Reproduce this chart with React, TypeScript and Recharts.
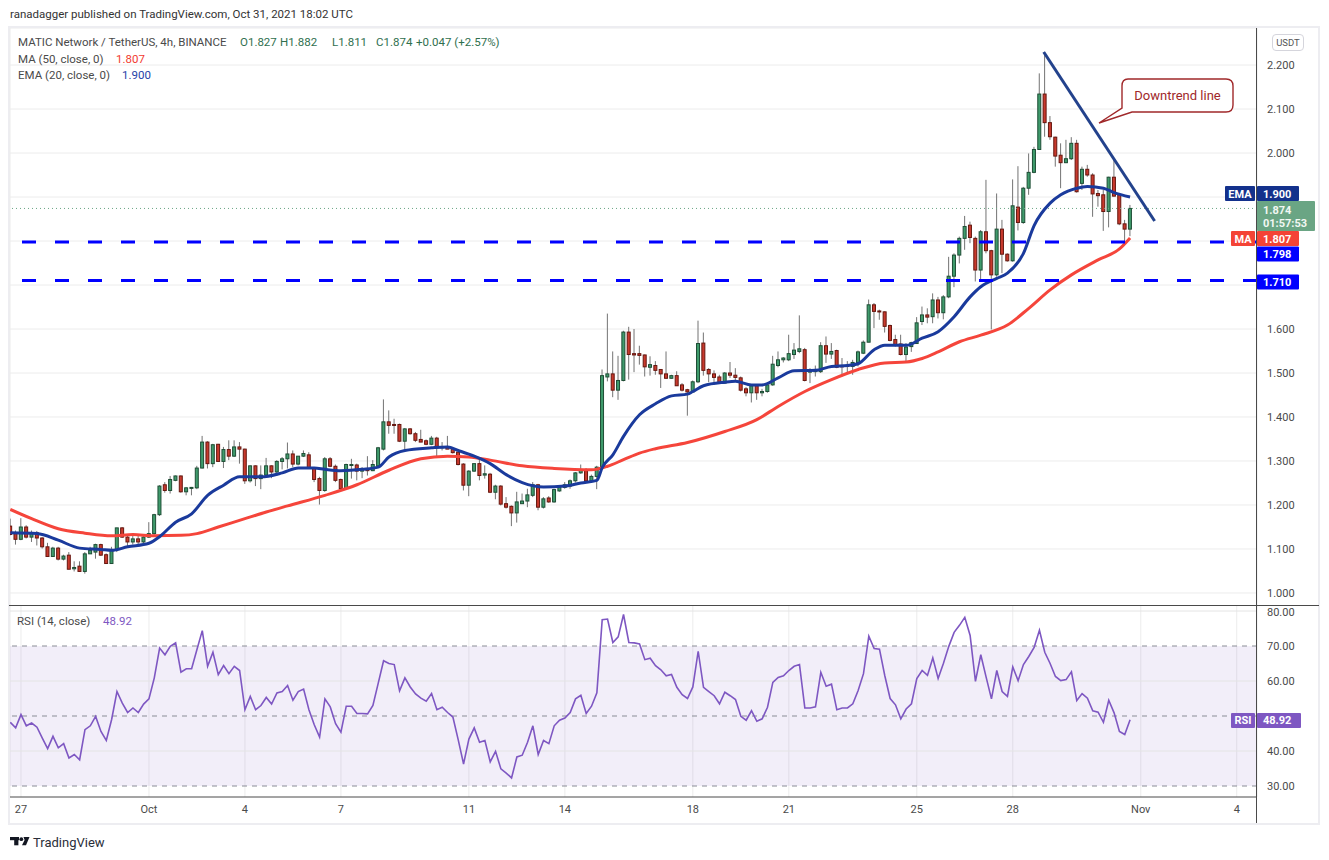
import React from 'react';
import {
  ComposedChart,
  Bar,
  Line,
  XAxis,
  YAxis,
  CartesianGrid,
  ReferenceLine,
  ReferenceArea,
} from 'recharts';

// 4h candles, Sep 26 16:00 -> Oct 31 16:00 UTC, [open, high, low, close]
const ohlc: number[][] = [
  [1.152, 1.169, 1.131, 1.133], [1.135, 1.142, 1.110, 1.122], [1.122, 1.170, 1.120, 1.150], [1.150, 1.154, 1.124, 1.127],
  [1.127, 1.142, 1.116, 1.137], [1.137, 1.141, 1.108, 1.125], [1.125, 1.127, 1.101, 1.105], [1.105, 1.114, 1.082, 1.083],
  [1.083, 1.105, 1.082, 1.102], [1.102, 1.105, 1.074, 1.077], [1.077, 1.087, 1.074, 1.084], [1.086, 1.093, 1.054, 1.054],
  [1.055, 1.072, 1.049, 1.058], [1.061, 1.072, 1.048, 1.049], [1.049, 1.093, 1.044, 1.089], [1.089, 1.105, 1.089, 1.097],
  [1.093, 1.112, 1.078, 1.110], [1.110, 1.112, 1.084, 1.086], [1.087, 1.090, 1.067, 1.067], [1.067, 1.105, 1.067, 1.099],
  [1.099, 1.148, 1.093, 1.148], [1.148, 1.150, 1.125, 1.127], [1.127, 1.133, 1.105, 1.116], [1.116, 1.133, 1.110, 1.123],
  [1.123, 1.133, 1.110, 1.116], [1.116, 1.130, 1.112, 1.127], [1.127, 1.161, 1.125, 1.135], [1.135, 1.180, 1.131, 1.178],
  [1.178, 1.245, 1.175, 1.243], [1.246, 1.252, 1.228, 1.233], [1.233, 1.266, 1.226, 1.258], [1.256, 1.267, 1.254, 1.266],
  [1.266, 1.267, 1.228, 1.230], [1.230, 1.241, 1.222, 1.239], [1.239, 1.241, 1.222, 1.240], [1.239, 1.289, 1.236, 1.284],
  [1.284, 1.357, 1.283, 1.343], [1.343, 1.345, 1.283, 1.294], [1.294, 1.339, 1.286, 1.337], [1.338, 1.339, 1.298, 1.299],
  [1.299, 1.332, 1.284, 1.326], [1.326, 1.347, 1.302, 1.311], [1.311, 1.347, 1.309, 1.332], [1.332, 1.343, 1.294, 1.327],
  [1.327, 1.328, 1.248, 1.255], [1.255, 1.290, 1.251, 1.289], [1.289, 1.290, 1.243, 1.260], [1.260, 1.290, 1.236, 1.268],
  [1.268, 1.307, 1.264, 1.289], [1.289, 1.290, 1.261, 1.275], [1.275, 1.302, 1.266, 1.299], [1.299, 1.309, 1.281, 1.305],
  [1.305, 1.342, 1.283, 1.316], [1.316, 1.324, 1.286, 1.293], [1.293, 1.311, 1.290, 1.311], [1.311, 1.324, 1.309, 1.317],
  [1.314, 1.320, 1.283, 1.284], [1.284, 1.286, 1.252, 1.258], [1.260, 1.264, 1.201, 1.233], [1.233, 1.309, 1.230, 1.305],
  [1.305, 1.309, 1.286, 1.288], [1.288, 1.292, 1.252, 1.256], [1.258, 1.260, 1.236, 1.237], [1.238, 1.294, 1.237, 1.292],
  [1.291, 1.305, 1.260, 1.292], [1.291, 1.294, 1.256, 1.277], [1.277, 1.286, 1.261, 1.281], [1.281, 1.311, 1.267, 1.278],
  [1.278, 1.302, 1.277, 1.292], [1.289, 1.332, 1.286, 1.330], [1.327, 1.440, 1.324, 1.389], [1.389, 1.415, 1.362, 1.381],
  [1.383, 1.396, 1.362, 1.381], [1.383, 1.385, 1.343, 1.345], [1.345, 1.375, 1.326, 1.373], [1.373, 1.375, 1.360, 1.362],
  [1.362, 1.366, 1.343, 1.347], [1.349, 1.371, 1.343, 1.343], [1.346, 1.349, 1.336, 1.338], [1.338, 1.357, 1.336, 1.352],
  [1.352, 1.355, 1.307, 1.330], [1.330, 1.343, 1.324, 1.333], [1.333, 1.357, 1.327, 1.327], [1.328, 1.332, 1.317, 1.319],
  [1.320, 1.324, 1.290, 1.292], [1.293, 1.295, 1.233, 1.245], [1.245, 1.279, 1.220, 1.277], [1.277, 1.295, 1.275, 1.294],
  [1.294, 1.309, 1.256, 1.267], [1.268, 1.290, 1.260, 1.271], [1.270, 1.273, 1.227, 1.229], [1.229, 1.246, 1.213, 1.243],
  [1.243, 1.245, 1.199, 1.202], [1.203, 1.218, 1.192, 1.195], [1.197, 1.199, 1.152, 1.182], [1.182, 1.230, 1.160, 1.207],
  [1.203, 1.226, 1.203, 1.209], [1.209, 1.237, 1.195, 1.223], [1.222, 1.252, 1.218, 1.246], [1.246, 1.248, 1.188, 1.195],
  [1.195, 1.218, 1.192, 1.214], [1.216, 1.220, 1.205, 1.207], [1.207, 1.237, 1.205, 1.235], [1.232, 1.245, 1.230, 1.241],
  [1.240, 1.252, 1.237, 1.246], [1.243, 1.258, 1.237, 1.255], [1.255, 1.275, 1.251, 1.273], [1.273, 1.292, 1.271, 1.280],
  [1.278, 1.284, 1.252, 1.255], [1.255, 1.269, 1.251, 1.265], [1.265, 1.289, 1.236, 1.286], [1.284, 1.508, 1.281, 1.494],
  [1.491, 1.635, 1.481, 1.498], [1.498, 1.549, 1.445, 1.461], [1.461, 1.539, 1.439, 1.483], [1.483, 1.596, 1.481, 1.593],
  [1.593, 1.605, 1.485, 1.542], [1.544, 1.600, 1.502, 1.541], [1.544, 1.562, 1.519, 1.540], [1.541, 1.542, 1.492, 1.514],
  [1.513, 1.538, 1.494, 1.519], [1.517, 1.527, 1.496, 1.506], [1.508, 1.509, 1.466, 1.498], [1.498, 1.549, 1.487, 1.488],
  [1.488, 1.496, 1.487, 1.494], [1.494, 1.504, 1.471, 1.471], [1.473, 1.477, 1.458, 1.461], [1.462, 1.464, 1.403, 1.457],
  [1.457, 1.483, 1.455, 1.480], [1.480, 1.619, 1.477, 1.567], [1.568, 1.592, 1.494, 1.506], [1.508, 1.511, 1.479, 1.498],
  [1.498, 1.506, 1.473, 1.490], [1.491, 1.496, 1.476, 1.477], [1.477, 1.502, 1.476, 1.500], [1.500, 1.525, 1.489, 1.495],
  [1.495, 1.511, 1.481, 1.490], [1.489, 1.492, 1.458, 1.461], [1.464, 1.468, 1.447, 1.455], [1.455, 1.473, 1.433, 1.471],
  [1.471, 1.473, 1.439, 1.455], [1.455, 1.464, 1.447, 1.458], [1.458, 1.476, 1.455, 1.473], [1.473, 1.539, 1.471, 1.520],
  [1.517, 1.549, 1.513, 1.530], [1.530, 1.536, 1.524, 1.534], [1.530, 1.587, 1.527, 1.544], [1.542, 1.568, 1.532, 1.552],
  [1.549, 1.631, 1.545, 1.555], [1.553, 1.557, 1.481, 1.483], [1.502, 1.511, 1.477, 1.506], [1.503, 1.517, 1.492, 1.506],
  [1.503, 1.570, 1.500, 1.562], [1.562, 1.583, 1.523, 1.543], [1.543, 1.568, 1.532, 1.549], [1.551, 1.553, 1.511, 1.513],
  [1.517, 1.534, 1.492, 1.514], [1.517, 1.527, 1.498, 1.515], [1.515, 1.530, 1.496, 1.524], [1.524, 1.551, 1.515, 1.548],
  [1.545, 1.574, 1.543, 1.570], [1.570, 1.667, 1.570, 1.655], [1.655, 1.659, 1.602, 1.640], [1.641, 1.644, 1.621, 1.640],
  [1.639, 1.640, 1.592, 1.606], [1.608, 1.610, 1.572, 1.574], [1.576, 1.587, 1.560, 1.564], [1.566, 1.587, 1.540, 1.542],
  [1.542, 1.568, 1.526, 1.559], [1.560, 1.571, 1.548, 1.569], [1.567, 1.627, 1.566, 1.614], [1.617, 1.651, 1.609, 1.632],
  [1.632, 1.647, 1.613, 1.627], [1.628, 1.681, 1.613, 1.666], [1.666, 1.673, 1.624, 1.637], [1.637, 1.677, 1.622, 1.673],
  [1.673, 1.764, 1.670, 1.720], [1.720, 1.772, 1.695, 1.768], [1.768, 1.810, 1.749, 1.806], [1.806, 1.857, 1.780, 1.833],
  [1.836, 1.844, 1.795, 1.808], [1.806, 1.810, 1.708, 1.734], [1.734, 1.825, 1.711, 1.821], [1.821, 1.939, 1.772, 1.778],
  [1.778, 1.780, 1.599, 1.723], [1.723, 1.908, 1.719, 1.827], [1.827, 1.848, 1.727, 1.770], [1.770, 1.772, 1.753, 1.755],
  [1.755, 1.940, 1.753, 1.880], [1.877, 1.970, 1.824, 1.842], [1.842, 1.923, 1.839, 1.920], [1.920, 1.999, 1.905, 1.956],
  [1.956, 2.014, 1.954, 2.008], [2.008, 2.181, 2.007, 2.134], [2.134, 2.228, 2.037, 2.069], [2.069, 2.084, 2.030, 2.037],
  [2.036, 2.037, 1.969, 1.993], [1.995, 2.022, 1.920, 1.978], [1.978, 2.030, 1.977, 1.987], [1.987, 2.036, 1.984, 2.022],
  [2.022, 2.030, 1.910, 1.912], [1.931, 1.969, 1.916, 1.963], [1.963, 1.973, 1.946, 1.950], [1.950, 1.954, 1.855, 1.907],
  [1.908, 1.916, 1.878, 1.903], [1.905, 1.916, 1.823, 1.867], [1.867, 1.946, 1.831, 1.945], [1.945, 1.984, 1.901, 1.902],
  [1.905, 1.908, 1.836, 1.839], [1.839, 1.848, 1.791, 1.827], [1.827, 1.882, 1.811, 1.874],
];

// RSI(14) per candle
const rsiValues = [
  48.2, 46.6, 50.4, 47.2, 48.0, 46.8, 43.7, 40.7, 44.2, 40.9, 42.1, 38.0, 39.0, 37.5, 46.1, 47.2, 49.9, 45.6, 43.0, 49.0,
  57.0, 53.7, 51.0, 52.3, 51.0, 53.4, 54.9, 60.9, 69.4, 67.5, 69.9, 70.9, 62.5, 63.5, 63.5, 69.0, 74.4, 64.2, 68.2, 61.8,
  64.4, 62.1, 64.2, 63.0, 51.8, 55.6, 51.8, 53.0, 55.3, 53.4, 56.6, 57.0, 58.7, 54.5, 57.0, 57.7, 51.8, 47.5, 44.0, 54.9,
  52.6, 47.8, 45.4, 52.8, 52.8, 50.7, 50.7, 50.6, 53.0, 59.4, 65.8, 65.0, 64.7, 57.2, 60.9, 58.3, 56.3, 55.1, 54.2, 56.4,
  51.8, 52.5, 51.0, 49.7, 43.2, 36.3, 43.4, 46.6, 42.5, 43.0, 36.9, 39.9, 34.9, 33.7, 32.3, 38.3, 38.8, 42.5, 47.2, 39.0,
  43.0, 42.1, 47.2, 48.8, 49.4, 51.0, 54.9, 55.9, 50.7, 52.8, 56.6, 77.5, 77.7, 71.0, 72.6, 79.0, 71.0, 70.9, 70.6, 66.1,
  66.5, 64.4, 63.2, 61.5, 61.9, 58.2, 56.1, 55.0, 58.3, 68.5, 58.2, 57.0, 55.8, 53.5, 56.8, 55.8, 54.7, 49.9, 48.8, 51.5,
  48.5, 49.2, 52.5, 59.6, 61.0, 61.5, 63.0, 64.2, 64.7, 52.3, 52.3, 52.6, 62.5, 58.5, 59.1, 51.8, 52.3, 52.3, 53.5, 57.3,
  62.1, 72.8, 69.3, 69.1, 61.5, 55.0, 53.2, 49.2, 52.0, 53.5, 60.7, 63.0, 61.6, 66.6, 60.7, 65.1, 69.9, 73.9, 75.9, 78.2,
  73.0, 59.9, 67.5, 61.1, 54.9, 63.0, 57.0, 55.6, 64.0, 60.1, 64.7, 67.0, 69.6, 74.5, 68.2, 65.0, 61.3, 60.1, 60.4, 62.6,
  54.4, 56.4, 55.1, 51.5, 51.1, 48.2, 54.5, 50.9, 45.6, 44.7, 48.92,
];

// MA(50) read at candle indices [index, value]
const maPoints: [number, number][] = [
  [0, 1.19], [4, 1.169], [9, 1.146], [14, 1.136], [19, 1.13], [23, 1.133], [27, 1.13], [32, 1.131], [35, 1.135],
  [39, 1.15], [44, 1.169], [48, 1.184], [52, 1.198], [59, 1.222], [65, 1.246], [71, 1.279], [77, 1.305], [82, 1.311],
  [86, 1.309], [90, 1.302], [96, 1.289], [102, 1.283], [109, 1.28], [112, 1.288], [115, 1.303], [118, 1.318],
  [121, 1.328], [127, 1.342], [134, 1.367], [140, 1.394], [144, 1.424], [149, 1.458], [154, 1.485], [159, 1.508],
  [164, 1.523], [168, 1.525], [171, 1.533], [174, 1.548], [178, 1.571], [182, 1.586], [187, 1.609], [191, 1.647],
  [195, 1.689], [199, 1.723], [204, 1.757], [208, 1.782], [210, 1.807],
];

// EMA(20) read at candle indices [index, value]
const emaPoints: [number, number][] = [
  [0, 1.137], [5, 1.135], [9, 1.12], [13, 1.102], [17, 1.099], [19, 1.097], [22, 1.105], [26, 1.113], [28, 1.128],
  [31, 1.161], [34, 1.18], [37, 1.222], [40, 1.245], [43, 1.264], [47, 1.264], [51, 1.273], [54, 1.284], [57, 1.284],
  [59, 1.281], [62, 1.278], [66, 1.281], [69, 1.286], [71, 1.309], [74, 1.324], [79, 1.33], [82, 1.332], [84, 1.324],
  [87, 1.311], [90, 1.294], [93, 1.269], [96, 1.251], [100, 1.241], [104, 1.243], [107, 1.25], [110, 1.256],
  [111, 1.285], [113, 1.314], [115, 1.356], [118, 1.405], [121, 1.43], [124, 1.448], [127, 1.452], [128, 1.458],
  [130, 1.471], [134, 1.479], [136, 1.481], [139, 1.473], [141, 1.473], [144, 1.489], [147, 1.505], [151, 1.506],
  [154, 1.515], [157, 1.517], [159, 1.521], [162, 1.553], [164, 1.563], [168, 1.563], [171, 1.579], [174, 1.594],
  [177, 1.628], [180, 1.673], [182, 1.696], [185, 1.715], [187, 1.727], [190, 1.772], [192, 1.835], [195, 1.886],
  [197, 1.905], [200, 1.92], [202, 1.924], [205, 1.92], [207, 1.91], [210, 1.9],
];

const dateTicks = [2, 26, 44, 62, 86, 104, 128, 146, 170, 188, 212, 230];
const dateLabels = ['27', 'Oct', '4', '7', '11', '14', '18', '21', '25', '28', 'Nov', '4'];
const priceTicks = [1.0, 1.1, 1.2, 1.3, 1.4, 1.5, 1.6, 1.7, 1.8, 1.9, 2.0, 2.1, 2.2];
const hiddenPriceTicks = [1.7, 1.8, 1.9]; // covered by the axis tags
const rsiTicks = [30, 40, 50, 60, 70, 80];
const supportLevels = [1.798, 1.71];
const trendLine = [
  { x: 193.8, y: 2.2295 },
  { x: 214.6, y: 1.8455 },
];
const lastPrice = 1.874;
const maLast = 1.807;
const emaLast = 1.9;
const rsiLast = 48.92;

const X_DOMAIN: [number, number] = [-0.06, 233.8];
const FONT = 'Roboto, "Noto Sans", sans-serif';

const maMap = new Map(maPoints);
const emaMap = new Map(emaPoints);
const priceData = ohlc.map(([o, h, l, c], i) => ({
  i,
  o,
  h,
  l,
  c,
  ma: maMap.has(i) ? maMap.get(i) : null,
  ema: emaMap.has(i) ? emaMap.get(i) : null,
}));
const rsiData = rsiValues.map((r, i) => ({ i, r }));

const Candle = (props: any) => {
  const { x, y, width, height, payload } = props;
  if (!payload || height == null) return null;
  const { o, h, l, c } = payload;
  const up = c >= o;
  const ppu = height / Math.max(h - l, 1e-6);
  const top = y + (h - Math.max(o, c)) * ppu;
  const bodyH = Math.max(Math.abs(o - c) * ppu, 1);
  const cx = x + width / 2;
  return (
    <g>
      <line x1={cx} x2={cx} y1={y} y2={y + height} stroke="#737373" strokeWidth={1} />
      <rect
        x={x}
        y={top}
        width={width}
        height={bodyH}
        fill={up ? '#3f9b6c' : '#c8392d'}
        stroke={up ? '#1e4d35' : '#66170f'}
        strokeWidth={1}
      />
    </g>
  );
};

// price tag drawn on the right axis, optional name tag left of it
const tag = (
  value: string,
  bg: string,
  dy: number,
  opts: { name?: string; nameW?: number; w?: number; h?: number; sub?: string } = {},
) => (props: any) => {
  const vb = props.viewBox || {};
  const right = (vb.x || 0) + (vb.width || 0);
  const cy = (vb.y || 0) + dy;
  const w = opts.w || 42;
  const h = opts.h || 15;
  const nw = opts.nameW || 30;
  return (
    <g style={{ fontFamily: FONT }}>
      {opts.name && (
        <g>
          <rect x={right - 2 - nw} y={cy - 7.5} width={nw} height={15} fill={bg} rx={1} />
          <text x={right - 2 - nw / 2} y={cy + 4} textAnchor="middle" fill="#fff" fontSize={11} fontWeight={700}>
            {opts.name}
          </text>
        </g>
      )}
      <rect x={right} y={cy - h / 2} width={w} height={h} fill={bg} rx={1} />
      {opts.sub ? (
        <g>
          <text x={right + 6} y={cy - 2} fill="#f2f7f3" fontSize={11} fontWeight={700}>{value}</text>
          <text x={right + 6} y={cy + 11} fill="#f2f7f3" fontSize={11} fontWeight={700}>{opts.sub}</text>
        </g>
      ) : (
        <text x={right + 6} y={cy + 4} fill="#fff" fontSize={11} fontWeight={700}>{value}</text>
      )}
    </g>
  );
};

const absText = (left: number, top: number, color: string, text: string, size = 11.5) => (
  <div style={{ position: 'absolute', left, top, color, fontSize: size, whiteSpace: 'nowrap', lineHeight: '14px' }}>{text}</div>
);

export default function App() {
  return (
    <div style={{ position: 'relative', width: 1329, height: 860, background: '#fff', fontFamily: FONT, overflow: 'hidden' }}>
      <style>{'body{margin:0;background:#fff}'}</style>

      {absText(10, 7, '#333', 'ranadagger published on TradingView.com, Oct 31, 2021 18:02 UTC', 11.5)}

      {/* chart frame */}
      <div style={{ position: 'absolute', left: 8, top: 26, width: 1312, height: 799, boxSizing: 'border-box',
        border: '2px solid #ededf1' }} />

      <div style={{ position: 'absolute', left: 0, top: 28 }}>
        <ComposedChart width={1329} height={578} data={priceData} margin={{ top: 0, right: 0, bottom: 0, left: 10 }}>
          <CartesianGrid stroke="#ececec" strokeWidth={1} />
          <XAxis
            type="number"
            dataKey="i"
            domain={X_DOMAIN}
            allowDataOverflow
            ticks={dateTicks}
            height={0}
            tick={false}
            axisLine={false}
            tickLine={false}
          />
          <YAxis
            orientation="right"
            width={72}
            type="number"
            domain={[0.97045, 2.2841]}
            allowDataOverflow
            ticks={priceTicks}
            tickFormatter={(v: number) => (hiddenPriceTicks.some((h) => Math.abs(h - v) < 1e-6) ? '' : v.toFixed(3))}
            tick={{ fill: '#4a4a4a', fontSize: 11 }}
            tickLine={false}
            tickSize={8}
            tickMargin={2}
            axisLine={false}
          />
          <ReferenceLine y={lastPrice} stroke="#6aa584" strokeDasharray="1 3" strokeWidth={1}
            label={tag(lastPrice.toFixed(3), '#6aa584', 7.6, { w: 58, h: 30, sub: '01:57:53' })} />
          <Bar dataKey={(d: any) => [d.l, d.h]} barSize={3} shape={<Candle />} isAnimationActive={false} />
          <Line dataKey="ma" type="monotone" stroke="#f5453b" strokeWidth={3} dot={false} connectNulls isAnimationActive={false} />
          <Line dataKey="ema" type="monotone" stroke="#1a3a9c" strokeWidth={3} dot={false} connectNulls isAnimationActive={false} />
          {supportLevels.map((lvl, k) => (
            <ReferenceLine key={lvl} y={lvl} stroke="#0000ff" strokeWidth={3} strokeDasharray="14 19"
              label={tag(lvl.toFixed(3), '#0000ff', k === 0 ? 12 : 1.4)} />
          ))}
          <ReferenceLine y={maLast} stroke="none" label={tag(maLast.toFixed(3), '#f44336', 0.6, { name: 'MA', nameW: 24 })} />
          <ReferenceLine y={emaLast} stroke="none" label={tag(emaLast.toFixed(3), '#13318c', -3.5, { name: 'EMA', nameW: 30 })} />
          <ReferenceLine segment={trendLine} stroke="#23428c" strokeWidth={3} ifOverflow="visible" />
        </ComposedChart>
      </div>

      <div style={{ position: 'absolute', left: 0, top: 606 }}>
        <ComposedChart width={1329} height={217} data={rsiData} margin={{ top: 0, right: 0, bottom: 0, left: 10 }}>
          <CartesianGrid stroke="#ececec" horizontal={false} />
          <ReferenceArea y1={30} y2={70} fill="#7e57c2" fillOpacity={0.1} stroke="none" />
          {[40, 60, 80].map((v) => (
            <ReferenceLine key={v} y={v} stroke="#e4e4e4" />
          ))}
          {[30, 50, 70].map((v) => (
            <ReferenceLine key={v} y={v} stroke="#8a8d96" strokeDasharray="5 5" />
          ))}
          <XAxis
            type="number"
            dataKey="i"
            domain={X_DOMAIN}
            allowDataOverflow
            ticks={dateTicks}
            tickFormatter={(v: number) => dateLabels[dateTicks.indexOf(v)] ?? ''}
            height={26}
            tick={{ fill: '#4a4a4a', fontSize: 11 }}
            tickLine={false}
            axisLine={{ stroke: '#4a4a4a' }}
          />
          <YAxis
            orientation="right"
            width={72}
            type="number"
            domain={[26.86, 81.43]}
            allowDataOverflow
            ticks={rsiTicks}
            tickFormatter={(v: number) => (v === 50 ? '' : v.toFixed(2))}
            tick={{ fill: '#4a4a4a', fontSize: 11 }}
            tickLine={false}
            tickSize={8}
            tickMargin={2}
            axisLine={false}
          />
          <Line dataKey="r" type="linear" stroke="#7e57c2" strokeWidth={1.6} dot={false} isAnimationActive={false} />
          <ReferenceLine y={rsiLast} stroke="none" label={tag(rsiLast.toFixed(2), '#7e57c2', 0.6, { name: 'RSI', nameW: 24, w: 44 })} />
        </ComposedChart>
      </div>

      {/* pane separator and right axis border */}
      <div style={{ position: 'absolute', left: 9, top: 605, width: 1310, height: 1, background: '#4a4a4a' }} />
      <div style={{ position: 'absolute', left: 1256, top: 28, width: 1, height: 795, background: '#4a4a4a' }} />

      {/* legends */}
      {absText(18, 35, '#4a4a4a', 'MATIC Network / TetherUS, 4h, BINANCE')}
      {absText(240, 35, '#2f6f4e', 'O1.827')}
      {absText(280, 35, '#2f6f4e', 'H1.882')}
      {absText(332, 35, '#2f6f4e', 'L1.811')}
      {absText(376, 35, '#2f6f4e', 'C1.874')}
      {absText(416, 35, '#2f6f4e', '+0.047 (+2.57%)')}
      {absText(18, 52, '#4a4a4a', 'MA (50, close, 0)')}
      {absText(116, 52, '#f23b31', '1.807')}
      {absText(18, 68, '#4a4a4a', 'EMA (20, close, 0)')}
      {absText(122, 68, '#1f3fa8', '1.900')}
      {absText(17, 614, '#4a4a4a', 'RSI (14, close)')}
      {absText(103, 614, '#7e57c2', '48.92')}

      {/* currency badge */}
      <div style={{ position: 'absolute', left: 1272, top: 34, width: 30, height: 15, border: '1px solid #d5d5dc', borderRadius: 4,
        fontSize: 9.5, color: '#555', textAlign: 'center', lineHeight: '15px' }}>USDT</div>

      {/* callout and footer logo */}
      <svg width={1329} height={860} style={{ position: 'absolute', left: 0, top: 0, pointerEvents: 'none' }}>
        <path d="M1128 79 H1226 Q1233 79 1233 86 V105 Q1233 112 1226 112 H1132 L1099 123 L1122 108 V86 Q1122 79 1128 79 Z"
          fill="#fff" stroke="#a0282a" strokeWidth={1.4} />
        <text x={1177.5} y={100} textAnchor="middle" fill="#a0282a" fontSize={13} fontFamily={FONT}>Downtrend line</text>
        <g fill="#131722">
          <rect x={10} y={837} width={9} height={3.2} />
          <rect x={14.2} y={837} width={4.2} height={8.3} />
          <circle cx={21.3} cy={839.2} r={1.9} />
          <path d="M23.5 837 H29.5 L26 845.3 H22 L24.6 840 Z" />
        </g>
        <text x={33} y={846.5} fill="#2a2e39" fontSize={13} fontFamily={FONT}>TradingView</text>
      </svg>
    </div>
  );
}
